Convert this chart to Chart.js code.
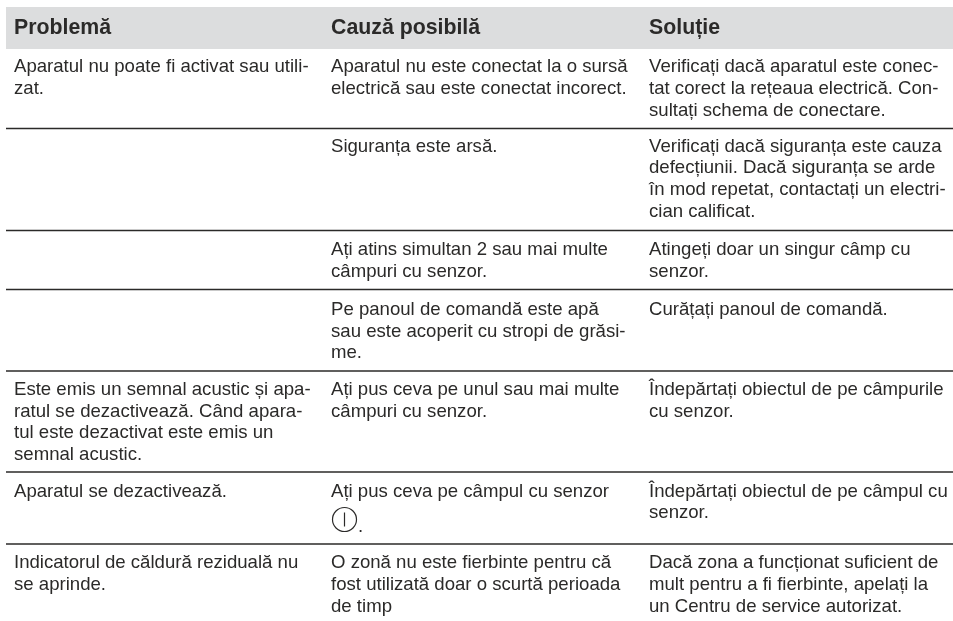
<!DOCTYPE html>
<html lang="ro">
<head>
<meta charset="utf-8">
<title>Problemă</title>
<style>
    html, body { margin: 0; padding: 0; background: #fff; }
    canvas { display: block; }
</style>
<script src="https://cdn.jsdelivr.net/npm/chart.js@4"></script>
</head>
<body>
<canvas id="myChart" width="953" height="621"></canvas>
<script>
let headers = ["Problemă", "Cauză posibilă", "Soluție"];

let problema = [
    ["Aparatul nu poate fi activat sau utili-", "zat."],
    [],
    [],
    [],
    ["Este emis un semnal acustic și apa-", "ratul se dezactivează. Când apara-", "tul este dezactivat este emis un", "semnal acustic."],
    ["Aparatul se dezactivează."],
    ["Indicatorul de căldură reziduală nu", "se aprinde."],
];
let cauza = [
    ["Aparatul nu este conectat la o sursă", "electrică sau este conectat incorect."],
    ["Siguranța este arsă."],
    ["Ați atins simultan 2 sau mai multe", "câmpuri cu senzor."],
    ["Pe panoul de comandă este apă", "sau este acoperit cu stropi de grăsi-", "me."],
    ["Ați pus ceva pe unul sau mai multe", "câmpuri cu senzor."],
    ["Ați pus ceva pe câmpul cu senzor"],
    ["O zonă nu este fierbinte pentru că", "fost utilizată doar o scurtă perioada", "de timp"],
];
let solutie = [
    ["Verificați dacă aparatul este conec-", "tat corect la rețeaua electrică. Con-", "sultați schema de conectare."],
    ["Verificați dacă siguranța este cauza", "defecțiunii. Dacă siguranța se arde", "în mod repetat, contactați un electri-", "cian calificat."],
    ["Atingeți doar un singur câmp cu", "senzor."],
    ["Curățați panoul de comandă."],
    ["Îndepărtați obiectul de pe câmpurile", "cu senzor."],
    ["Îndepărtați obiectul de pe câmpul cu", "senzor."],
    ["Dacă zona a funcționat suficient de", "mult pentru a fi fierbinte, apelați la", "un Centru de service autorizat."],
];

// margini pe axele graficului
let columnStarts = [14, 331, 649];
let firstBaselines = [72.3, 151.7, 255, 315, 395, 496.7, 568.3];
let rowRules = [128.5, 230.5, 289.5, 371, 472, 544];
let tableLeft = 6;
let tableRight = 953;
let headerTop = 7;
let headerBottom = 49;
let symbolPoint = [{ x: 344.5, y: 519.5 }];

let inkColor = "#2b2a29";
let bandColor = "#dcddde";

// deseneaza textul tabelului prin scalele graficului
let tableText = {
    id: "tableText",
    afterDatasetsDraw(chart) {
        let ctx = chart.ctx;
        let xs = chart.scales.x;
        let ys = chart.scales.y;
        ctx.save();
        ctx.fillStyle = inkColor;
        ctx.textBaseline = "alphabetic";
        ctx.font = "bold 21.3px 'Liberation Sans'";
        headers.forEach((item, c) => {
            ctx.fillText(item, xs.getPixelForValue(columnStarts[c]), ys.getPixelForValue(34));
        });
        ctx.font = "18.6px 'Liberation Sans'";
        [problema, cauza, solutie].forEach((column, c) => {
            column.forEach((lines, r) => {
                lines.forEach((line, l) => {
                    let y = firstBaselines[r] + l * 21.7;
                    ctx.fillText(line, xs.getPixelForValue(columnStarts[c]), ys.getPixelForValue(y));
                });
            });
        });
        // punctul de dupa simbol
        ctx.fillText(".", xs.getPixelForValue(symbolPoint[0].x + 13.5), ys.getPixelForValue(symbolPoint[0].y + 12.5));
        ctx.restore();
    },
};

let datasets = [
    {
        data: [{ x: tableLeft, y: headerTop }, { x: tableRight, y: headerTop }],
        showLine: true,
        borderWidth: 0,
        pointRadius: 0,
        backgroundColor: bandColor,
        fill: { value: headerBottom },
    },
];
rowRules.forEach((item) => {
    datasets.push({
        data: [{ x: tableLeft, y: item }, { x: tableRight, y: item }],
        showLine: true,
        borderColor: inkColor,
        borderWidth: 1.7,
        pointRadius: 0,
    });
});
// simbolul senzorului: bara verticala peste cerc (primul dataset e desenat deasupra)
datasets.unshift({
    data: symbolPoint,
    pointStyle: "circle",
    pointRadius: 12,
    pointBorderWidth: 1.2,
    pointBorderColor: inkColor,
    pointBackgroundColor: "#fff",
});
datasets.unshift({
    data: symbolPoint,
    pointStyle: "line",
    pointRotation: 90,
    pointRadius: 7,
    pointBorderWidth: 1.2,
    pointBorderColor: inkColor,
});

new Chart(document.getElementById("myChart").getContext("2d"), {
    type: "scatter",
    data: { datasets: datasets },
    options: {
        responsive: false,
        animation: false,
        layout: { padding: 0, autoPadding: false },
        plugins: { legend: { display: false }, title: { display: false }, tooltip: { enabled: false } },
        scales: {
            x: { type: "linear", min: 0, max: 953, display: false },
            y: { type: "linear", min: 0, max: 621, reverse: true, display: false },
        },
    },
    plugins: [tableText],
});
</script>
</body>
</html>
